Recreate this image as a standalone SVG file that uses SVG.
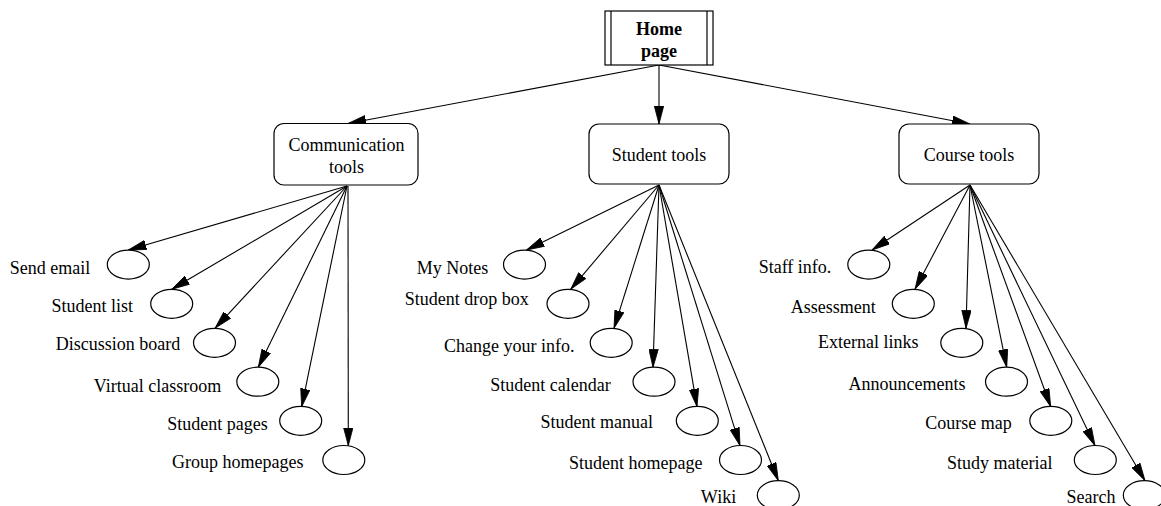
<svg xmlns="http://www.w3.org/2000/svg" width="1161" height="506" viewBox="0 0 1161 506">
<style>
text{font-family:"Liberation Serif","Times New Roman",serif;font-size:18px;fill:#000;text-anchor:middle}
.b{font-weight:bold}
.box{fill:#fff;stroke:#000;stroke-width:1.2}
.leaf{fill:#fff;stroke:#000;stroke-width:1.2}
.e{fill:none;stroke:#000;stroke-width:1.1;marker-end:url(#ah)}
</style>
<defs>
<marker id="ah" markerUnits="userSpaceOnUse" viewBox="0 0 18 10" refX="18" refY="5" markerWidth="18" markerHeight="10" orient="auto">
<path d="M0,0.3 L18,5 L0,9.7 z" fill="#000" stroke="#000" stroke-width="0.8"/>
</marker>
</defs>
<g id="connectors">
<line class="e" x1="659" y1="65" x2="348" y2="123.5"/>
<line class="e" x1="659" y1="65" x2="659" y2="124"/>
<line class="e" x1="659" y1="65" x2="970" y2="124"/>
<line class="e" x1="347" y1="186" x2="128.3" y2="250"/>
<line class="e" x1="347" y1="186" x2="171.7" y2="289.3"/>
<line class="e" x1="347" y1="186" x2="215" y2="328.3"/>
<line class="e" x1="347" y1="186" x2="258.3" y2="367.3"/>
<line class="e" x1="347" y1="186" x2="301.7" y2="406.7"/>
<line class="e" x1="348" y1="186" x2="348.3" y2="445.7"/>
<line class="e" x1="659" y1="185" x2="526.5" y2="250"/>
<line class="e" x1="659" y1="185" x2="570.7" y2="289.3"/>
<line class="e" x1="659" y1="185" x2="614" y2="328.3"/>
<line class="e" x1="659" y1="185" x2="653" y2="367.3"/>
<line class="e" x1="659" y1="185" x2="697" y2="406.7"/>
<line class="e" x1="659" y1="185" x2="740" y2="445.7"/>
<line class="e" x1="659" y1="185" x2="778.3" y2="480.7"/>
<line class="e" x1="970" y1="185" x2="872" y2="250"/>
<line class="e" x1="970" y1="185" x2="915" y2="289.3"/>
<line class="e" x1="970" y1="185" x2="966" y2="328.3"/>
<line class="e" x1="970" y1="185" x2="1006.7" y2="367.3"/>
<line class="e" x1="970" y1="185" x2="1050.7" y2="406.7"/>
<line class="e" x1="970" y1="185" x2="1095" y2="445.7"/>
<line class="e" x1="970" y1="185" x2="1145" y2="480.7"/>
</g>
<g id="home">
<rect class="box" x="605" y="11" width="108" height="54"/>
<line x1="611" y1="11" x2="611" y2="65" stroke="#000" stroke-width="1.2"/>
<line x1="707" y1="11" x2="707" y2="65" stroke="#000" stroke-width="1.2"/>
<text class="b" x="659" y="34.5">Home</text>
<text class="b" x="659" y="56.5">page</text>
</g>
<g id="comm">
<rect class="box" x="274" y="123.5" width="144" height="61.5" rx="10"/>
<text x="346.5" y="150.5">Communication</text>
<text x="346.5" y="173">tools</text>
</g>
<g id="student">
<rect class="box" x="589" y="124" width="140" height="60" rx="10"/>
<text x="659" y="161">Student tools</text>
</g>
<g id="course">
<rect class="box" x="899" y="124" width="140" height="60" rx="10"/>
<text x="969" y="161">Course tools</text>
</g>
<g id="send-email"><ellipse class="leaf" cx="128.3" cy="264.6" rx="21" ry="14.5"/><text x="50" y="274">Send email</text></g>
<g id="student-list"><ellipse class="leaf" cx="171.7" cy="303.8" rx="21" ry="14.5"/><text x="92.2" y="311.7">Student list</text></g>
<g id="discussion-board"><ellipse class="leaf" cx="214.5" cy="342.8" rx="21" ry="14.5"/><text x="118" y="350">Discussion board</text></g>
<g id="virtual-classroom"><ellipse class="leaf" cx="257.8" cy="381.7" rx="21" ry="14.5"/><text x="157.5" y="391.7">Virtual classroom</text></g>
<g id="student-pages"><ellipse class="leaf" cx="300.7" cy="420.8" rx="21" ry="14.5"/><text x="217.5" y="430">Student pages</text></g>
<g id="group-homepages"><ellipse class="leaf" cx="343.8" cy="460" rx="21" ry="14.5"/><text x="237.8" y="468.3">Group homepages</text></g>
<g id="my-notes"><ellipse class="leaf" cx="524.5" cy="264.6" rx="21" ry="14.5"/><text x="452.5" y="274.3">My Notes</text></g>
<g id="student-drop-box"><ellipse class="leaf" cx="568" cy="303.8" rx="21" ry="14.5"/><text x="466.7" y="305">Student drop box</text></g>
<g id="change-your-info"><ellipse class="leaf" cx="611.2" cy="342.8" rx="21" ry="14.5"/><text x="509.2" y="351.7">Change your info.</text></g>
<g id="student-calendar"><ellipse class="leaf" cx="654" cy="381.7" rx="21" ry="14.5"/><text x="550.5" y="391">Student calendar</text></g>
<g id="student-manual"><ellipse class="leaf" cx="697.3" cy="420.8" rx="21" ry="14.5"/><text x="596.7" y="428.3">Student manual</text></g>
<g id="student-homepage"><ellipse class="leaf" cx="740.5" cy="460" rx="21" ry="14.5"/><text x="635.8" y="469.3">Student homepage</text></g>
<g id="wiki"><ellipse class="leaf" cx="778.3" cy="495.2" rx="21" ry="14.5"/><text x="718.5" y="503.3">Wiki</text></g>
<g id="staff-info"><ellipse class="leaf" cx="868.8" cy="264.6" rx="21" ry="14.5"/><text x="795" y="273.3">Staff info.</text></g>
<g id="assessment"><ellipse class="leaf" cx="913.3" cy="303.8" rx="21" ry="14.5"/><text x="833.3" y="312.7">Assessment</text></g>
<g id="external-links"><ellipse class="leaf" cx="961.8" cy="342.8" rx="21" ry="14.5"/><text x="868.3" y="348.3">External links</text></g>
<g id="announcements"><ellipse class="leaf" cx="1006.5" cy="381.7" rx="21" ry="14.5"/><text x="907" y="390">Announcements</text></g>
<g id="course-map"><ellipse class="leaf" cx="1050.8" cy="420.8" rx="21" ry="14.5"/><text x="968.5" y="429.3">Course map</text></g>
<g id="study-material"><ellipse class="leaf" cx="1095.3" cy="460" rx="21" ry="14.5"/><text x="999.7" y="469.3">Study material</text></g>
<g id="search"><ellipse class="leaf" cx="1144.3" cy="495.2" rx="21" ry="14.5"/><text x="1091" y="503.3">Search</text></g>
</svg>
